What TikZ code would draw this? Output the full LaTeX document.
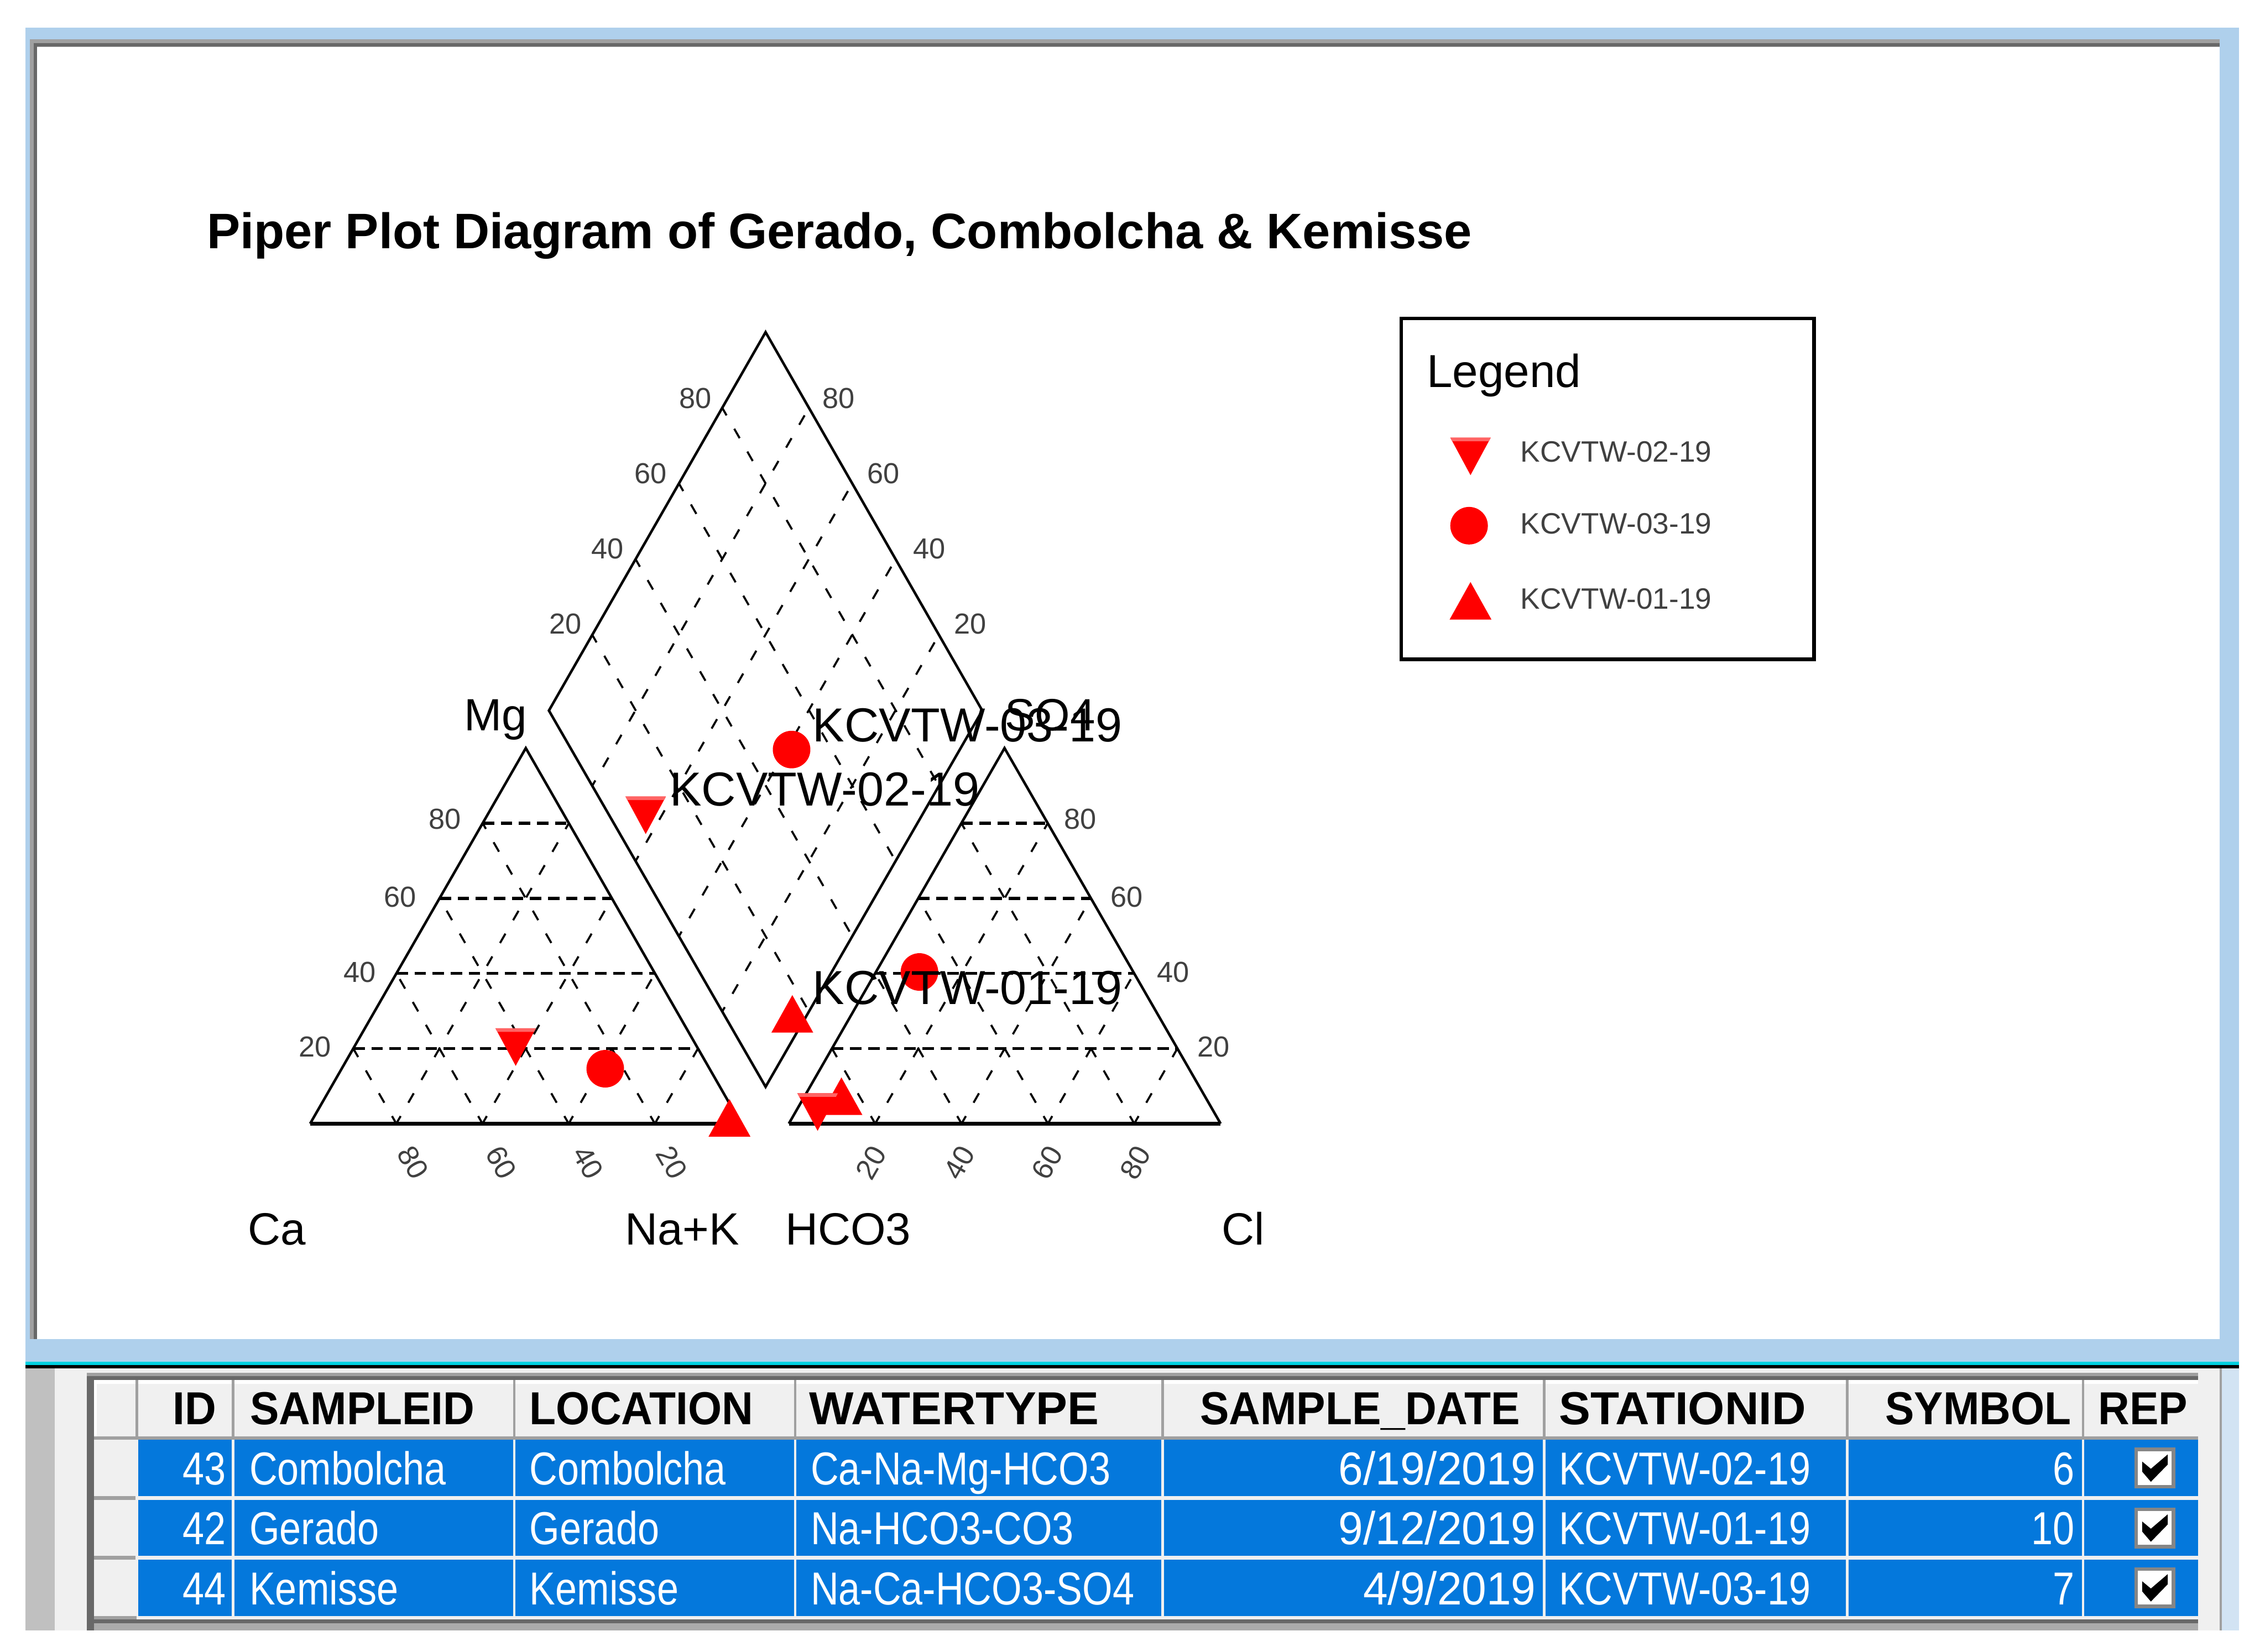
\documentclass[tikz,border=0pt]{standalone}
\usepackage{fontspec}
\usetikzlibrary{calc}
\setmainfont{Liberation Sans}
\newfontfamily\cellfont[FakeStretch=.84]{Liberation Sans}
\newfontfamily\datefont[FakeStretch=.96]{Liberation Sans}
\newfontfamily\headfont[FakeStretch=.94]{Liberation Sans}
\newfontfamily\wideheadfont[FakeStretch=1.02]{Liberation Sans}
\definecolor{frameblue}{HTML}{AFD0EC}
\definecolor{paleblue}{HTML}{D2E3F3}
\definecolor{cellblue}{HTML}{0478DC}
\definecolor{bandcyan}{HTML}{00D0E0}
\definecolor{headgray}{HTML}{F0F0F0}
\definecolor{linegray}{HTML}{A0A0A0}
\definecolor{darkgray}{HTML}{686868}
\definecolor{sidegray}{HTML}{C0C0C0}
\definecolor{markred}{HTML}{FF0000}
\definecolor{markpale}{HTML}{FF6464}
\definecolor{tickgray}{HTML}{404040}
\tikzset{
  txt/.style={anchor=base west,inner sep=0pt},
  title/.style={txt,font=\fontsize{9.83}{12}\selectfont\bfseries},
  axislabel/.style={txt,font=\fontsize{8.9}{10}\selectfont},
  marklabel/.style={txt,font=\fontsize{9.4}{11}\selectfont},
  legendlabel/.style={txt,font=\fontsize{5.8}{7}\selectfont,text=tickgray},
  ticklabel/.style={inner sep=0pt,font=\fontsize{5.7}{7}\selectfont,text=tickgray},
  headcell/.style={txt,font=\headfont\fontsize{9.1}{11}\selectfont\bfseries},
  wideheadcell/.style={txt,font=\wideheadfont\fontsize{9.1}{11}\selectfont\bfseries},
  bodycell/.style={txt,font=\cellfont\fontsize{9.1}{11}\selectfont,text=white},
  datecell/.style={anchor=base east,inner sep=0pt,font=\datefont\fontsize{9.1}{11}\selectfont,text=white},
  gridline/.style={line width=.4pt,dash pattern=on .075cm off .107cm,dash phase=.015cm},
  gridlineb/.style={line width=.4pt,dash pattern=on .075cm off .107cm,dash phase=.122cm},
  levelline/.style={line width=.6pt,dash pattern=on .08cm off .045cm},
  plotline/.style={line width=.5pt,line join=miter},
  baseline/.style={line width=.7pt},
  vline/.style={line width=.5pt,draw=headgray},
  hline/.style={line width=.5pt,draw=linegray}
}
\newcommand{\downmark}[2]{
  \fill[markred] (#1-14,#2-13)--(#1+14,#2-13)--(#1,#2+13)--cycle;
  \fill[markpale] (#1-14,#2-13)--(#1+14,#2-13)--(#1+12.7,#2-10.5)--(#1-12.7,#2-10.5)--cycle;
}
\newcommand{\upmark}[2]{\fill[markred] (#1-14.5,#2+13)--(#1+14.5,#2+13)--(#1,#2-13)--cycle;}
\newcommand{\roundmark}[2]{\fill[markred] (#1,#2) circle (13);}
\newcommand{\checkbox}[1]{
  \fill[darkgray!80] (1477.5,#1-14.2) rectangle (1505.8,#1+14.2);
  \fill[white] (1480,#1-11.7) rectangle (1503.3,#1+11.7);
  \fill[black] (1483,#1-4.5)--(1489,#1+0.5)--(1500.7,#1-9.5)--(1500.7,#1-2.5)--(1489,#1+9.5)--(1483,#1+2.5)--cycle;
}
\begin{document}
\begin{tikzpicture}[x=0.01cm,y=-0.01cm]
\useasboundingbox (0,0) rectangle (1568,1143.7);
\fill[frameblue] (17.8,19.2) rectangle (1550,947);
\fill[linegray] (20.6,27.2) rectangle (1536.6,32.4);
\fill[linegray] (20.6,27.2) rectangle (25.8,927);
\fill[darkgray] (23.2,30) rectangle (1536.6,32);
\fill[darkgray] (23.2,30) rectangle (25.8,927);
\fill[white] (25.8,32.4) rectangle (1536.6,927);
\fill[bandcyan] (17.8,942.8) rectangle (1550,945);
\fill[black] (17.8,945) rectangle (1550,947.6);

\fill[sidegray] (17.8,947.6) rectangle (38,1129);
\fill[headgray] (38,947.6) rectangle (1536.6,1129);
\fill[paleblue] (1538,947.6) rectangle (1550,1129);
\fill[linegray] (1536.6,947.6) rectangle (1538,1129);
\fill[linegray] (60,950.4) rectangle (1521.7,953);
\fill[darkgray] (60,953) rectangle (1521.7,955.6);
\fill[darkgray] (60,953) rectangle (65,1129);
\fill[white] (65,955.6) rectangle (1521.7,994.5);
\fill[headgray] (67,958) rectangle (1521.7,994.5);
\fill[linegray] (65,994.5) rectangle (1521.7,997);
\fill[cellblue] (94.7,997) rectangle (1521.7,1036);
\fill[cellblue] (94.7,1038.5) rectangle (1521.7,1077.4);
\fill[cellblue] (94.7,1080) rectangle (1521.7,1118.8);
\fill[linegray] (65,1036) rectangle (94.7,1038.5);
\fill[linegray] (65,1077.4) rectangle (94.7,1080);
\fill[linegray] (65,1118.8) rectangle (94.7,1121.4);
\fill[darkgray] (65,1121.4) rectangle (1521.7,1124);
\fill[black!33] (65,1124) rectangle (1521.7,1129);
\foreach \colx in {94.7,161.4,356,550.5,804.9,1069,1278.7,1442}{
  \draw[hline] (\colx,955.6)--(\colx,994.5);
  \draw[vline] (\colx,997)--(\colx,1118.8);
}

\node[title] (plottitle) at (142.5,172) {Piper Plot Diagram of Gerado, Combolcha \& Kemisse};

\coordinate (dtop) at (530,230);
\coordinate (dleft) at (380,492);
\coordinate (dright) at (680,492);
\coordinate (dbottom) at (530,752.5);
\draw[plotline] (dtop)--(dleft)--(dbottom)--(dright)--cycle;
\foreach \k in {1,2,3,4}{
  \draw[gridline] ($(dtop)!{\k/5}!(dleft)$)--($(dright)!{\k/5}!(dbottom)$);
  \draw[gridlineb] ($(dtop)!{\k/5}!(dright)$)--($(dleft)!{\k/5}!(dbottom)$);
}

\coordinate (ca) at (214.7,778);
\coordinate (nak) at (513,778);
\coordinate (mgtop) at (364,518);
\coordinate (hco) at (546.1,778);
\coordinate (cl) at (845,778);
\coordinate (sotop) at (695.4,518);
\draw[plotline] (ca)--(mgtop)--(nak);
\draw[baseline] (ca)--(nak);
\draw[plotline] (hco)--(sotop)--(cl);
\draw[baseline] (hco)--(cl);
\foreach \lft/\rgt/\tp in {ca/nak/mgtop,hco/cl/sotop}{
  \foreach \k in {1,2,3,4}{
    \draw[gridline] ($(\lft)!{\k/5}!(\rgt)$)--($(\lft)!{\k/5}!(\tp)$);
    \draw[gridline] ($(\lft)!{\k/5}!(\rgt)$)--($(\rgt)!{1-\k/5}!(\tp)$);
    \draw[levelline] ($(\lft)!{\k/5}!(\tp)$)--($(\rgt)!{\k/5}!(\tp)$);
  }
}

\foreach \t/\x/\y in {80/481.5/276,60/450.5/328,40/420.5/380,20/391.5/432}{
  \node[ticklabel] (dl\t) at (\x,\y) {\t};
}
\foreach \t/\x/\y in {80/580.5/276,60/611.5/328,40/643.5/380,20/671.5/432}{
  \node[ticklabel] (dr\t) at (\x,\y) {\t};
}
\foreach \t/\x/\y in {80/308/567,60/277/621,40/249/673,20/218/725}{
  \node[ticklabel] (tl\t) at (\x,\y) {\t};
}
\foreach \t/\x/\y in {80/748/567,60/780/621,40/812/673,20/840/725}{
  \node[ticklabel] (tr\t) at (\x,\y) {\t};
}
\foreach \t/\x in {80/286,60/347,40/407,20/465}{
  \node[ticklabel,rotate=-60] (bl\t) at (\x,805) {\t};
}
\foreach \t/\x in {20/603,40/664,60/725,80/786}{
  \node[ticklabel,rotate=60] (br\t) at (\x,805) {\t};
}

\node[axislabel] (mg) at (320.5,506) {Mg};
\node[axislabel] (so) at (695,506) {SO4};
\node[axislabel] (calabel) at (171,862) {Ca};
\node[axislabel] (naklabel) at (432,862) {Na+K};
\node[axislabel] (hcolabel) at (543,862) {HCO3};
\node[axislabel] (cllabel) at (845,862) {Cl};

\downmark{447}{564.5}
\downmark{357}{725}
\upmark{582.5}{759}
\downmark{566}{770}
\roundmark{548}{519}
\roundmark{636.5}{673}
\roundmark{419}{740}
\upmark{548.5}{702}
\upmark{505}{774}

\node[marklabel] (mark03) at (562,513.6) {KCVTW-03-19};
\node[marklabel] (mark02) at (463,558) {KCVTW-02-19};
\node[marklabel] (mark01) at (562,695.4) {KCVTW-01-19};

\node[draw,line width=.7pt,minimum width=2.857cm,minimum height=2.36cm,inner sep=0pt] (legendbox) at (1112.9,338.5) {};
\node[txt,font=\fontsize{9.1}{11}\selectfont] (legendtitle) at (987,268) {Legend};
\downmark{1018}{316}
\roundmark{1017}{364}
\upmark{1018}{416}
\node[legendlabel] (leg02) at (1052,320) {KCVTW-02-19};
\node[legendlabel] (leg03) at (1052,369.5) {KCVTW-03-19};
\node[legendlabel] (leg01) at (1052,421.5) {KCVTW-01-19};

\node[headcell] (hid) at (119,986.5) {ID};
\node[headcell] (hsample) at (172.5,986.5) {SAMPLEID};
\node[headcell] (hlocation) at (366,986.5) {LOCATION};
\node[wideheadcell] (hwater) at (559.5,986.5) {WATERTYPE};
\node[headcell] (hdate) at (830,986.5) {SAMPLE\_DATE};
\node[wideheadcell] (hstation) at (1078.5,986.5) {STATIONID};
\node[headcell] (hsymbol) at (1304.5,986.5) {SYMBOL};
\node[headcell] (hrep) at (1452,986.5) {REP};

\foreach \rowy/\rid/\place/\water/\sdate/\station/\symb in {
  1028/43/Combolcha/Ca-Na-Mg-HCO3/6\slash 19\slash 2019/KCVTW-02-19/6,
  1069.4/42/Gerado/Na-HCO3-CO3/9\slash 12\slash 2019/KCVTW-01-19/10,
  1111/44/Kemisse/Na-Ca-HCO3-SO4/4\slash 9\slash 2019/KCVTW-03-19/7}{
  \node[bodycell,anchor=base east] (id\rid) at (157,\rowy) {\rid};
  \node[bodycell] (sample\rid) at (172,\rowy) {\place};
  \node[bodycell] (location\rid) at (366,\rowy) {\place};
  \node[bodycell] (water\rid) at (560.5,\rowy) {\water};
  \node[datecell] (date\rid) at (1064,\rowy) {\sdate};
  \node[bodycell] (station\rid) at (1078.5,\rowy) {\station};
  \node[bodycell,anchor=base east] (symbol\rid) at (1437,\rowy) {\symb};
}
\checkbox{1016.5}
\checkbox{1058}
\checkbox{1099.4}
\end{tikzpicture}
\end{document}
